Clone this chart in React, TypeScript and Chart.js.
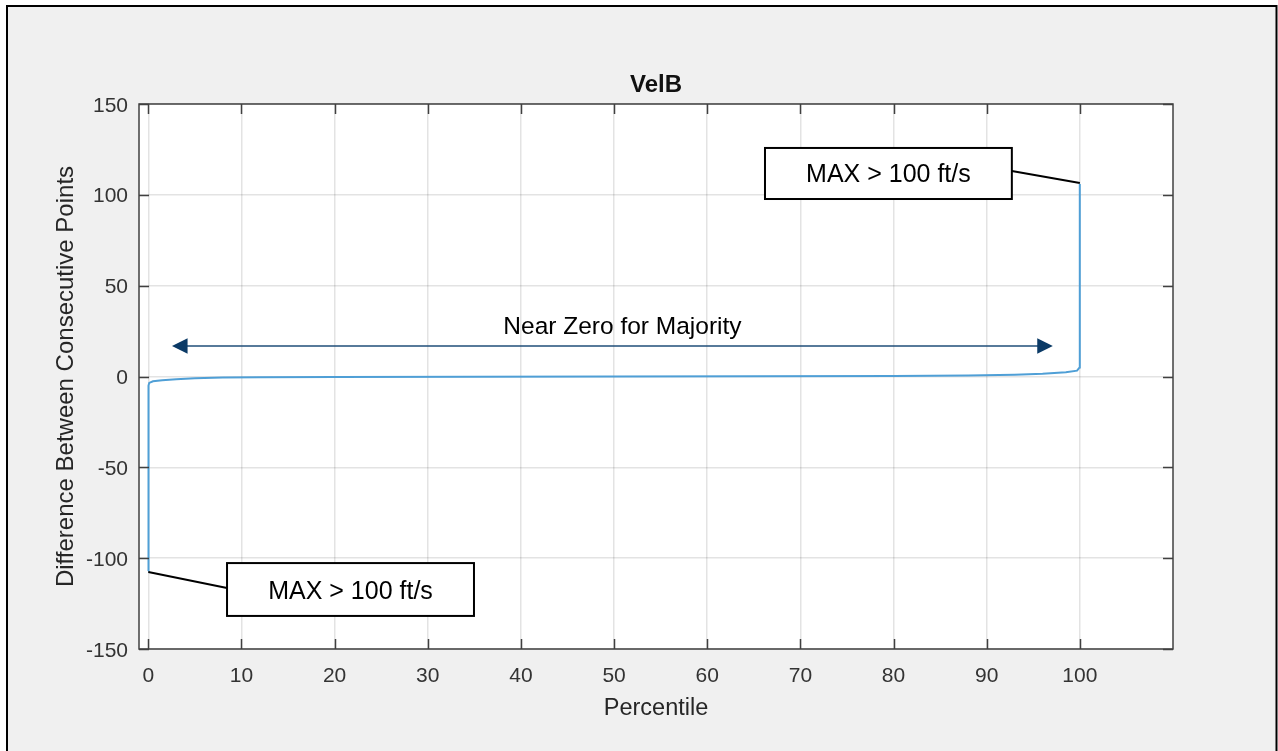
import React, { useEffect, useRef } from "react";
import { Chart, registerables } from "chart.js";

Chart.register(...registerables);

// ---- data ----
const percentile = [0, 0.01, 0.03, 0.1, 0.5, 1.5, 3, 5, 8, 12, 20, 35, 50, 65, 80, 88, 93, 96, 98.5, 99.7, 99.97, 99.99, 100];
const diffValues = [-107, -30, -5, -3.5, -2.6, -2, -1.5, -1.0, -0.6, -0.4, -0.25, -0.1, 0, 0.1, 0.3, 0.6, 1.0, 1.5, 2.3, 3.2, 5, 40, 106];

const xTickValues = [0, 10, 20, 30, 40, 50, 60, 70, 80, 90, 100];
const yTickValues = [-150, -100, -50, 0, 50, 100, 150];
const xTickLabels = ["0", "10", "20", "30", "40", "50", "60", "70", "80", "90", "100"];
const yTickLabels = ["-150", "-100", "-50", "0", "50", "100", "150"];

const titleText = "VelB";
const xAxisTitle = "Percentile";
const yAxisTitle = "Difference Between Consecutive Points";

// annotations (data coordinates)
const maxLabel = "MAX > 100 ft/s";
const topBox = [66.2, 92.7, 125.8, 97.7]; // x0, x1, yTop, yBottom
const topLeader = [92.7, 113.1, 100, 106.5];
const bottomBox = [8.45, 34.96, -102.7, -131.8];
const bottomLeader = [0, -107.6, 8.45, -116.4];
const arrowLabel = "Near Zero for Majority";
const arrowSpan = [2.54, 97.1, 16.8];
const arrowLabelPos = [50.9, 23.3];

const FONT = "'Liberation Sans', Arial, sans-serif";

const decorPlugin = {
  id: "decor",
  beforeDraw(chart: any) {
    const ctx = chart.ctx;
    const { left, right, top, bottom } = chart.chartArea;
    ctx.save();
    ctx.fillStyle = "#ffffff";
    ctx.fillRect(0, 0, chart.width, chart.height);
    ctx.fillStyle = "#f0f0f0";
    ctx.fillRect(7, 6, 1269.5, 760);
    ctx.strokeStyle = "#000000";
    ctx.lineWidth = 2;
    ctx.strokeRect(7, 6, 1269.5, 760);
    ctx.fillStyle = "#ffffff";
    ctx.fillRect(left, top, right - left, bottom - top);
    ctx.restore();
  },
  afterDatasetsDraw(chart: any) {
    const ctx = chart.ctx;
    const xs = chart.scales.x;
    const ys = chart.scales.y;
    const { left, right, top, bottom } = chart.chartArea;
    ctx.save();
    // axes box
    ctx.strokeStyle = "#404040";
    ctx.lineWidth = 1.5;
    ctx.strokeRect(left, top, right - left, bottom - top);
    // inner ticks
    const tl = 10;
    ctx.beginPath();
    xTickValues.forEach((v) => {
      const px = Math.round(xs.getPixelForValue(v)) + 0.5;
      ctx.moveTo(px, bottom);
      ctx.lineTo(px, bottom - tl);
      ctx.moveTo(px, top);
      ctx.lineTo(px, top + tl);
    });
    yTickValues.forEach((v) => {
      const py = Math.round(ys.getPixelForValue(v)) + 0.5;
      ctx.moveTo(left, py);
      ctx.lineTo(left + tl, py);
      ctx.moveTo(right, py);
      ctx.lineTo(right - tl, py);
    });
    ctx.stroke();

    // tick labels
    ctx.fillStyle = "#333333";
    ctx.font = `21px ${FONT}`;
    ctx.textBaseline = "alphabetic";
    ctx.textAlign = "center";
    xTickValues.forEach((v, i) => {
      ctx.fillText(xTickLabels[i], xs.getPixelForValue(v), 682);
    });
    ctx.textAlign = "right";
    yTickValues.forEach((v, i) => {
      ctx.fillText(yTickLabels[i], 128, ys.getPixelForValue(v) + 7.5);
    });

    // title
    ctx.fillStyle = "#111111";
    ctx.font = `bold 24px ${FONT}`;
    ctx.textAlign = "center";
    ctx.fillText(titleText, (left + right) / 2, 92);

    // axis titles
    ctx.fillStyle = "#262626";
    ctx.font = `23.5px ${FONT}`;
    ctx.fillText(xAxisTitle, (left + right) / 2, 715);
    ctx.save();
    ctx.translate(73, (top + bottom) / 2);
    ctx.rotate(-Math.PI / 2);
    ctx.font = `24px ${FONT}`;
    ctx.fillText(yAxisTitle, 0, 0);
    ctx.restore();

    // leader lines
    ctx.strokeStyle = "#000000";
    ctx.lineWidth = 2;
    ctx.beginPath();
    ctx.moveTo(xs.getPixelForValue(topLeader[0]), ys.getPixelForValue(topLeader[1]));
    ctx.lineTo(xs.getPixelForValue(topLeader[2]), ys.getPixelForValue(topLeader[3]));
    ctx.moveTo(xs.getPixelForValue(bottomLeader[0]), ys.getPixelForValue(bottomLeader[1]));
    ctx.lineTo(xs.getPixelForValue(bottomLeader[2]), ys.getPixelForValue(bottomLeader[3]));
    ctx.stroke();

    // boxes
    const drawBox = (b: number[]) => {
      const x0 = xs.getPixelForValue(b[0]);
      const x1 = xs.getPixelForValue(b[1]);
      const y0 = ys.getPixelForValue(b[2]);
      const y1 = ys.getPixelForValue(b[3]);
      ctx.fillStyle = "#ffffff";
      ctx.fillRect(x0, y0, x1 - x0, y1 - y0);
      ctx.strokeStyle = "#000000";
      ctx.lineWidth = 2;
      ctx.strokeRect(x0, y0, x1 - x0, y1 - y0);
      ctx.fillStyle = "#000000";
      ctx.font = `25px ${FONT}`;
      ctx.textAlign = "center";
      ctx.textBaseline = "alphabetic";
      ctx.fillText(maxLabel, (x0 + x1) / 2, (y0 + y1) / 2 + 9);
    };
    drawBox(topBox);
    drawBox(bottomBox);

    // double arrow
    const ax0 = xs.getPixelForValue(arrowSpan[0]);
    const ax1 = xs.getPixelForValue(arrowSpan[1]);
    const ay = ys.getPixelForValue(arrowSpan[2]);
    const hl = 15.6;
    const hw = 7.8;
    ctx.strokeStyle = "#1f4e79";
    ctx.lineWidth = 1.5;
    ctx.beginPath();
    ctx.moveTo(ax0 + hl - 1, ay);
    ctx.lineTo(ax1 - hl + 1, ay);
    ctx.stroke();
    ctx.fillStyle = "#0b3a66";
    ctx.beginPath();
    ctx.moveTo(ax0, ay);
    ctx.lineTo(ax0 + hl, ay - hw);
    ctx.lineTo(ax0 + hl, ay + hw);
    ctx.closePath();
    ctx.fill();
    ctx.beginPath();
    ctx.moveTo(ax1, ay);
    ctx.lineTo(ax1 - hl, ay - hw);
    ctx.lineTo(ax1 - hl, ay + hw);
    ctx.closePath();
    ctx.fill();
    ctx.fillStyle = "#000000";
    ctx.font = `24.5px ${FONT}`;
    ctx.textAlign = "center";
    ctx.fillText(arrowLabel, xs.getPixelForValue(arrowLabelPos[0]), ys.getPixelForValue(arrowLabelPos[1]));

    ctx.restore();
  },
};

export default function App() {
  const ref = useRef<HTMLCanvasElement | null>(null);
  useEffect(() => {
    if (!ref.current) return;
    const chart = new Chart(ref.current, {
      type: "line",
      data: {
        datasets: [
          {
            data: percentile.map((x, i) => ({ x, y: diffValues[i] })),
            borderColor: "#4f9fd6",
            borderWidth: 2,
            pointRadius: 0,
            tension: 0,
            fill: false,
          },
        ],
      },
      options: {
        animation: false,
        responsive: false,
        devicePixelRatio: 1,
        layout: { padding: { top: 104, right: 105, left: 0, bottom: 0 } },
        plugins: { legend: { display: false }, tooltip: { enabled: false }, title: { display: false } },
        events: [],
        scales: {
          x: {
            type: "linear",
            min: -1,
            max: 110,
            afterBuildTicks: (s: any) => {
              s.ticks = xTickValues.map((v) => ({ value: v }));
            },
            afterFit: (s: any) => {
              s.height = 102;
            },
            ticks: { display: false },
            border: { display: false },
            grid: { color: "rgba(0,0,0,0.11)", lineWidth: 1.5, drawTicks: false },
          },
          y: {
            type: "linear",
            min: -150,
            max: 150,
            afterBuildTicks: (s: any) => {
              s.ticks = yTickValues.map((v) => ({ value: v }));
            },
            afterFit: (s: any) => {
              s.width = 139;
            },
            ticks: { display: false },
            border: { display: false },
            grid: { color: "rgba(0,0,0,0.11)", lineWidth: 1.5, drawTicks: false },
          },
        },
      } as any,
      plugins: [decorPlugin],
    });
    return () => chart.destroy();
  }, []);
  return (
    <div style={{ position: "absolute", left: 0, top: 0, width: 1278, height: 751 }}>
      <canvas ref={ref} width={1278} height={751} style={{ width: 1278, height: 751, display: "block" }} />
    </div>
  );
}
